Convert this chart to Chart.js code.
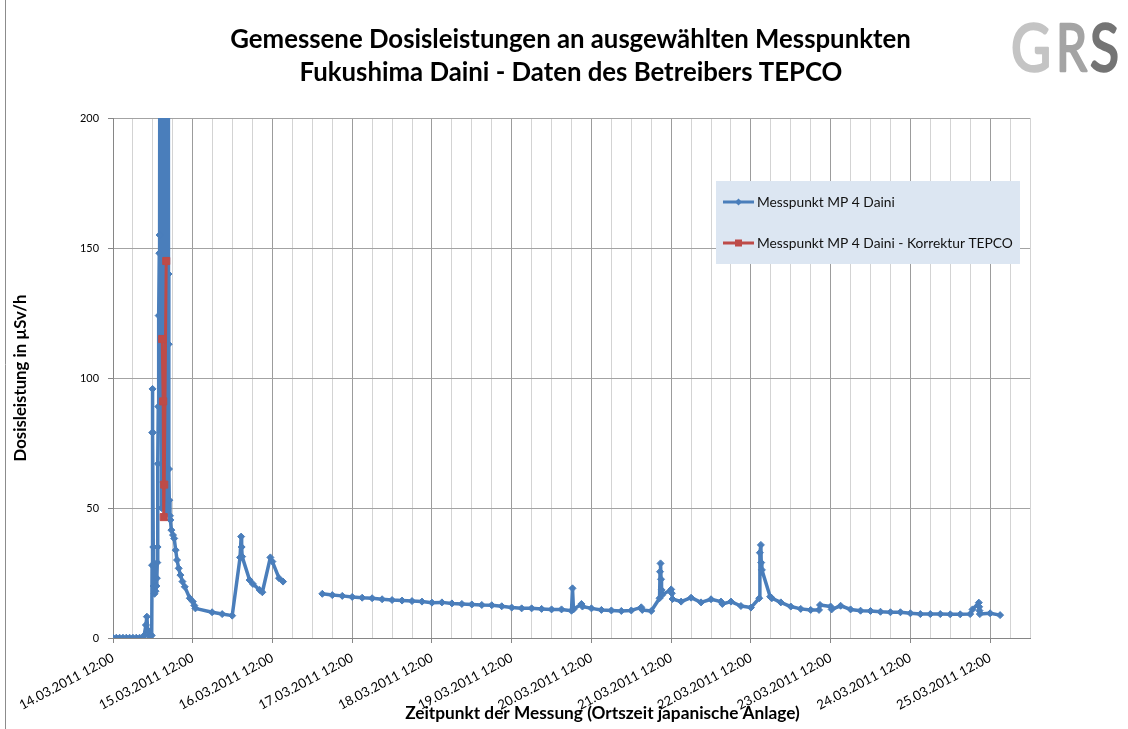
<!DOCTYPE html>
<html><head><meta charset="utf-8">
<script src="https://cdn.jsdelivr.net/npm/chart.js@4.4.1/dist/chart.umd.min.js"></script>
<style>html,body{margin:0;padding:0;background:#fff;}canvas{display:block;}</style>
</head><body>
<canvas id="c" width="1128" height="729"></canvas>
<script>
const titleLines = ['Gemessene Dosisleistungen an ausgewählten Messpunkten', 'Fukushima Daini - Daten des Betreibers TEPCO'];
const xAxisTitle = 'Zeitpunkt der Messung (Ortszeit japanische Anlage)';
const yAxisTitle = 'Dosisleistung in µSv/h';
const seriesNames = ['Messpunkt MP 4 Daini', 'Messpunkt MP 4 Daini - Korrektur TEPCO'];
const logoLetters = ['G', 'R', 'S'];
const xTickLabels = ['14.03.2011 12:00','15.03.2011 12:00','16.03.2011 12:00','17.03.2011 12:00','18.03.2011 12:00','19.03.2011 12:00','20.03.2011 12:00','21.03.2011 12:00','22.03.2011 12:00','23.03.2011 12:00','24.03.2011 12:00','25.03.2011 12:00'];
const yTickValues = [0, 50, 100, 150, 200];

// time = hours since 14.03.2011 00:00
const mp4Time = [12,13,14,15,16,17,18,19,20,21,21.4,21.9,22.2,22.45,22.9,23.2,23.65,23.76,23.82,23.91,24.0,24.12,24.24,24.5,24.8,25.06,25.2,25.33,25.42,25.51,25.63,25.75,25.93,26.03,26.33,26.63,26.87,27.11,27.36,27.6,27.84,28.08,28.33,28.7,28.76,28.85,28.94,29.15,29.27,29.57,30.06,30.42,30.87,31.27,31.78,32.29,32.9,33.6,35.11,36.02,36.47,36.8,41.83,44.86,47.88,50.24,50.57,50.72,50.87,53.11,54.1,56.13,56.95,59.37,59.97,61.97,63.18,70,
75,78,81,84,87,90,93,96,99,102,105,108,111,114,117,120,123,126,129,132,135,138,141,144,
147,150,150.3,150.6,153,153.3,156,159,162,165,168,171,171.3,174,176.5,176.65,176.8,176.95,177.1,177.25,180,180.2,180.4,183,186,189,192,195,195.4,198,201,204,206.5,206.7,207,207.1,207.3,209.8,210.3,213,216,219,222,224.5,224.8,228,228.3,231,234,237,240,243,246,249,252,255,258,261,264,267,270,270.7,272.6,272.7,272.8,272.9,276,279];
const mp4Value = [0.1,0.1,0.1,0.1,0.1,0.1,0.1,0.1,0.1,0.1,1,5,8.2,3,1.5,0.5,1,28,79,95.8,79,35,20,17,18,20,23,29,35,67,89,124,148,155,600,50,900,60,1200,50,1500,48,900,140,113,65,53,47,45.4,41.5,39.6,38.3,33.8,30,26.8,24.2,21.7,19.7,15.3,14,12.5,11.4,9.9,9.2,8.6,31,39,35,31.3,22.3,20.8,18.5,17.6,31,29.4,23,21.7,null,
17.0,16.5,16.2,15.8,15.5,15.3,14.9,14.6,14.4,14.2,14.0,13.6,13.7,13.3,13.1,12.9,12.7,12.6,12.2,11.7,11.4,11.4,11.2,11.0,
11.0,10.5,19.1,11,13.1,12.1,11.4,10.8,10.6,10.4,10.6,11.8,10.8,10.4,15.3,25.5,28.7,22.6,18.5,16.5,18.7,17.2,15,14,15.5,13.7,14.9,14,13.1,14,12.3,11.7,15.3,32.8,35.8,29,26.2,15.9,15.3,13.7,12.1,11.2,10.8,10.8,12.7,12.1,11,12.4,11,10.5,10.4,10.1,9.9,9.9,9.5,9.2,9.2,9.2,9.1,9.1,9.2,11,13.6,12,10.5,9.2,9.5,8.8];
const korrTime = [26.81, 27.11, 27.26, 27.42, 28.02];
const korrValue = [115, 91, 46.5, 59, 145];

const FAMILY = 'Lato';
const mctx = document.createElement('canvas').getContext('2d');
function fit(text, weight, target) { mctx.font = weight + ' 100px ' + FAMILY; return 100 * target / mctx.measureText(text).width; }
const titleSize = fit(titleLines[0], 'bold', 681);
const xTitleSize = fit(xAxisTitle, 'bold', 395);
const yTitleSize = fit(yAxisTitle, 'bold', 167);
const legendSize = fit(seriesNames[1], 'normal', 256);
const xTickSize = fit(xTickLabels[0], 'normal', 105);
const yTickSize = fit('200', 'normal', 19);

const BLUE = '#4A7EBB', RED = '#BE4B48';
const isMajor = v => ((v - 12) % 24) === 0;

function diamond(ctx, x, y, r, color) {
  ctx.beginPath(); ctx.moveTo(x, y - r); ctx.lineTo(x + r, y); ctx.lineTo(x, y + r); ctx.lineTo(x - r, y); ctx.closePath();
  ctx.fillStyle = color; ctx.fill();
}

const decor = {
  id: 'decor',
  beforeDraw(chart) {
    const ctx = chart.ctx; ctx.save();
    ctx.fillStyle = '#fff'; ctx.fillRect(0, 0, chart.width, chart.height);
    ctx.strokeStyle = '#8c8c8c'; ctx.lineWidth = 1;
    ctx.beginPath(); ctx.moveTo(5.5, 0); ctx.lineTo(5.5, chart.height); ctx.stroke();
    ctx.restore();
  },
  afterDatasetsDraw(chart) {
    const ctx = chart.ctx; ctx.save();
    ctx.fillStyle = '#DCE6F2'; ctx.fillRect(716, 181, 304, 83);
    const rows = [{y: 202, c: BLUE, m: 'd'}, {y: 243, c: RED, m: 's'}];
    rows.forEach((r, i) => {
      ctx.strokeStyle = r.c; ctx.lineWidth = 3; ctx.lineCap = 'butt';
      ctx.beginPath(); ctx.moveTo(723, r.y); ctx.lineTo(754, r.y); ctx.stroke();
      if (r.m === 'd') diamond(ctx, 738.5, r.y, 3.5, r.c);
      else { ctx.fillStyle = r.c; ctx.fillRect(735, r.y - 3.5, 7, 7); }
      ctx.fillStyle = '#111'; ctx.font = legendSize + 'px ' + FAMILY; ctx.textAlign = 'left'; ctx.textBaseline = 'middle';
      ctx.fillText(seriesNames[i], 757, r.y + 0.5);
    });
    ctx.restore();
  },
  afterDraw(chart) {
    const ctx = chart.ctx; ctx.save();
    ctx.fillStyle = '#000'; ctx.textAlign = 'center'; ctx.textBaseline = 'alphabetic';
    ctx.font = 'bold ' + titleSize + 'px ' + FAMILY;
    ctx.fillText(titleLines[0], 570.5, 48);
    ctx.fillText(titleLines[1], 571, 81);
    ctx.font = 'bold ' + xTitleSize + 'px ' + FAMILY;
    ctx.fillText(xAxisTitle, 602.5, 719);
    // logo
    const logo = [{x: 1011, w: 40, c: '#c4c4c4'}, {x: 1056, w: 31, c: '#a4a4a4'}, {x: 1090, w: 29, c: '#747474'}];
    ctx.font = '66px ' + FAMILY; ctx.textAlign = 'left'; ctx.lineJoin = 'round'; ctx.lineWidth = 2.5;
    logo.forEach((l, i) => {
      const mw = ctx.measureText(logoLetters[i]).width;
      ctx.save(); ctx.translate(l.x, 71); ctx.scale(l.w / mw, 1);
      ctx.fillStyle = l.c; ctx.strokeStyle = l.c;
      ctx.fillText(logoLetters[i], 0, 0); ctx.strokeText(logoLetters[i], 0, 0); ctx.restore();
    });
    ctx.restore();
  }
};

new Chart(document.getElementById('c'), {
  type: 'line',
  data: {
    datasets: [
      { label: seriesNames[0], data: mp4Time.map((t, i) => ({x: t, y: mp4Value[i]})),
        borderColor: BLUE, backgroundColor: BLUE, borderWidth: 3.5, pointStyle: 'rectRot', pointRadius: 3.5,
        pointBackgroundColor: BLUE, pointBorderColor: BLUE, pointBorderWidth: 1, tension: 0, spanGaps: false,
        borderJoinStyle: 'round', borderCapStyle: 'round', order: 2 },
      { label: seriesNames[1], data: korrTime.map((t, i) => ({x: t, y: korrValue[i]})),
        borderColor: RED, backgroundColor: RED, borderWidth: 3, pointStyle: 'rect', pointRadius: 5,
        pointBackgroundColor: RED, pointBorderColor: RED, pointBorderWidth: 1, tension: 0,
        borderJoinStyle: 'round', order: 1 }
    ]
  },
  options: {
    responsive: false, animation: false, devicePixelRatio: 1,
    layout: { padding: { left: 0, right: 98, top: 118, bottom: 0 } },
    plugins: { legend: { display: false }, tooltip: { enabled: false }, title: { display: false } },
    scales: {
      x: {
        type: 'linear', min: 12, max: 288,
        afterBuildTicks: s => { const t = []; for (let h = 12; h <= 288; h += 6) t.push({value: h}); s.ticks = t; },
        afterFit: s => { s.height = 91; },
        grid: { color: c => isMajor(c.tick.value) ? '#9c9c9c' : '#d3d3d3', lineWidth: 1,
                tickColor: c => isMajor(c.tick.value) ? '#868686' : 'rgba(0,0,0,0)', tickLength: 5 },
        border: { display: true, color: '#868686', width: 1 },
        ticks: { autoSkip: false, minRotation: 28, maxRotation: 28, padding: 7, color: '#000',
                 font: { family: FAMILY, size: xTickSize },
                 callback: v => isMajor(v) ? xTickLabels[(v - 12) / 24] : '' }
      },
      y: {
        type: 'linear', min: 0, max: 200,
        afterBuildTicks: s => { s.ticks = yTickValues.map(v => ({value: v})); },
        afterFit: s => { s.width = 113; },
        grid: { color: '#a3a3a3', lineWidth: 1, tickLength: 5, tickColor: '#868686' },
        border: { display: true, color: '#868686', width: 1 },
        ticks: { padding: 9, color: '#000', font: { family: FAMILY, size: yTickSize } },
        title: { display: true, text: yAxisTitle, color: '#000',
                 font: { family: FAMILY, size: yTitleSize, weight: 'bold' },
                 padding: { top: 20.5 - yTitleSize * 0.6, bottom: 0 } }
      }
    }
  },
  plugins: [decor]
});
</script>
</body></html>
